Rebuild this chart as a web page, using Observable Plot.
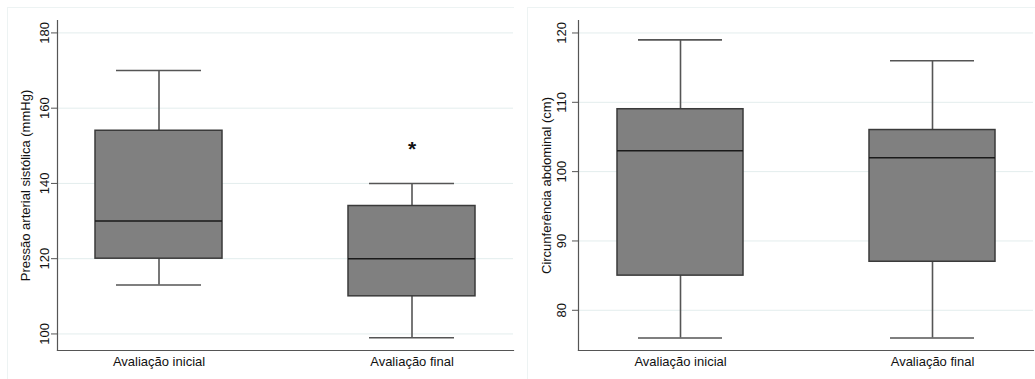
<!DOCTYPE html>
<html>
<head>
<meta charset="utf-8">
<script src="https://cdn.jsdelivr.net/npm/d3@7"></script>
<script src="https://cdn.jsdelivr.net/npm/@observablehq/plot@0.6"></script>
<style>
  body { margin: 0; background: #fff; width: 1035px; height: 379px; position: relative; overflow: hidden; }
  .panel { position: absolute; top: 0; }
  .border { position: absolute; border-left: 1px solid #edf3f3; border-top: 1px solid #edf3f3; pointer-events: none; }
</style>
</head>
<body>
<div id="p1" class="panel" style="left:0;width:515px"></div>
<div id="p2" class="panel" style="left:515px;width:520px"></div>
<div class="border" style="left:7px;top:7px;width:506px;height:380px"></div>
<div class="border" style="left:527px;top:7px;width:508px;height:380px"></div>
<script>
const groups = ["Avaliação inicial", "Avaliação final"];

// Pressão arterial sistólica (mmHg)
const pasMin = [113, 99];
const pasQ1 = [120, 110];
const pasMed = [130, 120];
const pasQ3 = [154, 134];
const pasMax = [170, 140];
const pasTicks = [100, 120, 140, 160, 180];
const pasSigLabel = ["", "*"];
const pasSigY = [null, 149];

// Circunferência abdominal (cm)
const caMin = [76, 76];
const caQ1 = [85, 87];
const caMed = [103, 102];
const caQ3 = [109, 106];
const caMax = [119, 116];
const caTicks = [80, 90, 100, 110, 120];

const font = "'Liberation Sans', Arial, Helvetica, sans-serif";

function panel({mins, q1s, meds, q3s, maxs, ticks, domain, label, width, marginLeft, tickPadding, sig}) {
  const rows = groups.map((g, i) => ({group: g, min: mins[i], q1: q1s[i], med: meds[i], q3: q3s[i], max: maxs[i]}));
  const sigRows = sig ? groups.map((g, i) => ({group: g, y: sig.y[i], text: sig.label[i]})).filter(d => d.text) : [];
  return Plot.plot({
    width, height: 379,
    marginLeft, marginRight: 2, marginTop: 20, marginBottom: 29,
    style: {fontFamily: font, fontSize: "13px", background: "transparent", color: "#111"},
    x: {type: "band", domain: groups, paddingInner: 0.5, paddingOuter: 0.15, label: null},
    y: {domain, label: null},
    marks: [
      Plot.gridY(ticks, {stroke: "#e3eded", strokeOpacity: 1, strokeWidth: 1}),
      Plot.ruleX(rows, {x: "group", y1: "q3", y2: "max", stroke: "#555", strokeWidth: 1.6}),
      Plot.ruleX(rows, {x: "group", y1: "min", y2: "q1", stroke: "#555", strokeWidth: 1.6}),
      Plot.tickY(rows, {x: "group", y: "max", stroke: "#555", strokeWidth: 1.6, insetLeft: 21, insetRight: 21}),
      Plot.tickY(rows, {x: "group", y: "min", stroke: "#555", strokeWidth: 1.6, insetLeft: 21, insetRight: 21}),
      Plot.barY(rows, {x: "group", y1: "q1", y2: "q3", fill: "#808080", stroke: "#3a3a3a", strokeWidth: 1.5}),
      Plot.tickY(rows, {x: "group", y: "med", stroke: "#1a1a1a", strokeWidth: 1.5}),
      Plot.text(sigRows, {x: "group", y: "y", text: "text", fontSize: 21, fontWeight: "bold", fill: "#111"}),
      Plot.axisY(ticks, {tickRotate: -90, tickSize: 6, tickPadding, stroke: "#555", fontSize: 13, label, labelAnchor: "center", labelOffset: 37, labelArrow: "none", fill: "#111"}),
      Plot.axisX({tickSize: 0, tickPadding: 6, fontSize: 13, label: null, fill: "#111"}),
      Plot.frame({anchor: "left", stroke: "#555", strokeWidth: 1.2}),
      Plot.frame({anchor: "bottom", stroke: "#555", strokeWidth: 1.2})
    ]
  });
}

document.getElementById("p1").append(panel({
  mins: pasMin, q1s: pasQ1, meds: pasMed, q3s: pasQ3, maxs: pasMax, ticks: pasTicks,
  domain: [95.6, 183.3], label: "Pressão arterial sistólica (mmHg)", width: 515, marginLeft: 57, tickPadding: 3,
  sig: {y: pasSigY, label: pasSigLabel}
}));
document.getElementById("p2").append(panel({
  mins: caMin, q1s: caQ1, meds: caMed, q3s: caQ3, maxs: caMax, ticks: caTicks,
  domain: [74.2, 121.8], label: "Circunferência abdominal (cm)", width: 520, marginLeft: 63, tickPadding: 7
}));
</script>
</body>
</html>
